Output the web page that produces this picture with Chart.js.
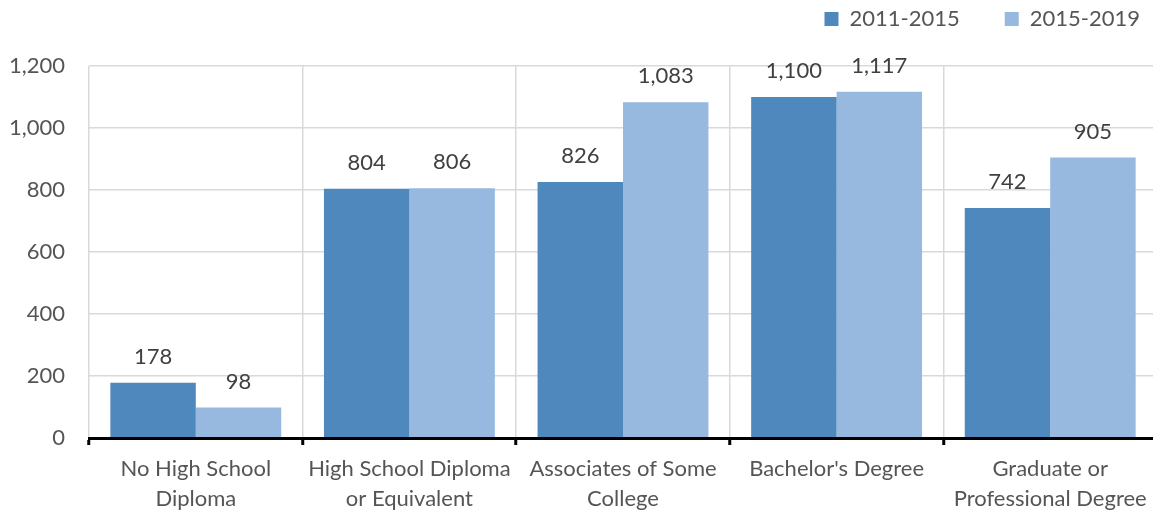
<!DOCTYPE html>
<html>
<head>
<meta charset="utf-8">
<script src="https://cdn.jsdelivr.net/npm/chart.js@4.4.1/dist/chart.umd.min.js"></script>
<style>
  html, body { margin: 0; padding: 0; background: #fff; overflow: hidden; }
  #wrap { position: relative; width: 1158px; height: 512px; }
</style>
</head>
<body>
<div id="wrap"><canvas id="barChart"></canvas></div>
<script>
// categories and values per period
const categories = [
  ['No High School', 'Diploma'],
  ['High School Diploma', 'or Equivalent'],
  ['Associates of Some', 'College'],
  ["Bachelor's Degree"],
  ['Graduate or', 'Professional Degree']
];
const series2011 = [178, 804, 826, 1100, 742];
const series2015 = [98, 806, 1083, 1117, 905];
const seriesLabels = ['2011-2015', '2015-2019'];
const yTicks = [0, 200, 400, 600, 800, 1000, 1200];

const FONT = 'Lato, "Open Sans", sans-serif';
const TEXT = '#555555';

// draws the value above every bar
const valueLabels = {
  id: 'valueLabels',
  afterDatasetsDraw(chart) {
    const ctx = chart.ctx;
    ctx.save();
    ctx.font = '22px ' + FONT;
    ctx.fillStyle = '#404040';
    ctx.textAlign = 'center';
    ctx.textBaseline = 'middle';
    chart.data.datasets.forEach((ds, i) => {
      chart.getDatasetMeta(i).data.forEach((bar, j) => {
        ctx.fillText(ds.data[j].toLocaleString('en-US'), bar.x, bar.y - 26);
      });
    });
    ctx.restore();
  }
};

// legend box: fixed height above the plot, pushed to the right edge
const legendBox = {
  id: 'legendBox',
  beforeLayout(chart) {
    const legend = chart.legend;
    if (legend && !legend._fixedFit) {
      const fit = legend.fit;
      legend.fit = function () {
        fit.call(this);
        this.height = 103;
      };
      legend._fixedFit = true;
    }
  },
  afterLayout(chart) {
    chart.legend.left += 28;
    chart.legend.right += 28;
  }
};

new Chart(document.getElementById('barChart').getContext('2d'), {
  type: 'bar',
  data: {
    labels: categories,
    datasets: [
      {
        label: seriesLabels[0],
        data: series2011,
        backgroundColor: '#4f88bd'
      },
      {
        label: seriesLabels[1],
        data: series2015,
        backgroundColor: '#98b9df'
      }
    ]
  },
  options: {
    responsive: true,
    maintainAspectRatio: false,
    animation: false,
    layout: { padding: { top: -37, right: 1, left: 0, bottom: 0 } },
    datasets: {
      bar: { categoryPercentage: 0.8, barPercentage: 1.0 }
    },
    plugins: {
      tooltip: { enabled: false },
      legend: {
        position: 'top',
        align: 'end',
        labels: {
          boxWidth: 14,
          boxHeight: 14,
          padding: 45,
          color: TEXT,
          font: { family: FONT, size: 22 }
        }
      }
    },
    scales: {
      x: {
        offset: true,
        afterFit(axis) { axis.height = 74; },
        grid: {
          offset: true,
          color: '#d9d9d9',
          lineWidth: 1.5,
          tickColor: '#000',
          tickWidth: 3,
          tickLength: 7
        },
        border: { color: '#000', width: 3, z: 1 },
        ticks: {
          color: TEXT,
          padding: 9,
          font: { family: FONT, size: 22, lineHeight: 1.36 }
        }
      },
      y: {
        min: 0,
        max: 1200,
        afterFit(axis) { axis.width = 89; },
        afterBuildTicks(axis) {
          axis.ticks = yTicks.map(v => ({ value: v }));
        },
        grid: {
          color: '#d9d9d9',
          lineWidth: 1.5,
          drawTicks: false
        },
        border: { display: false },
        ticks: {
          color: TEXT,
          padding: 24,
          font: { family: FONT, size: 22 },
          callback: v => v.toLocaleString('en-US')
        }
      }
    }
  },
  plugins: [valueLabels, legendBox]
});
</script>
</body>
</html>
